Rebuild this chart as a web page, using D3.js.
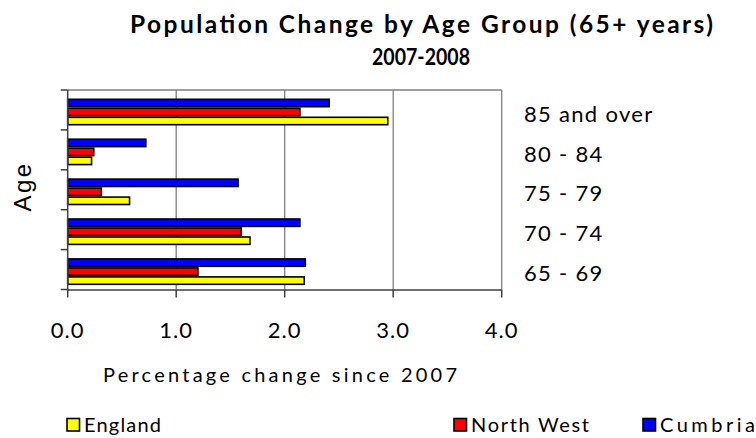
<!DOCTYPE html>
<html>
<head>
<meta charset="utf-8">
<script src="https://cdn.jsdelivr.net/npm/d3@7"></script>
<style>
  html, body { margin: 0; padding: 0; background: #fff; }
  svg { display: block; }
  text { font-family: Lato, "Open Sans", sans-serif; fill: #000; }
</style>
</head>
<body>
<svg id="chart" width="756" height="438"></svg>
<script>
const categories = ["85 and over", "80 - 84", "75 - 79", "70 - 74", "65 - 69"];
const seriesNames = ["England", "North West", "Cumbria"];
const england   = [2.95, 0.22, 0.57, 1.68, 2.18];
const northWest = [2.14, 0.24, 0.31, 1.60, 1.20];
const cumbria   = [2.41, 0.72, 1.57, 2.14, 2.19];
const xTicks = [0, 1, 2, 3, 4];
const titleLines = ["Population Change by Age Group (65+ years)", "2007-2008"];
const xTitle = "Percentage change since 2007";
const yTitle = "Age";

const colors = { "England": "#ffff00", "North West": "#ff0000", "Cumbria": "#0000ff" };
const seriesData = { "England": england, "North West": northWest, "Cumbria": cumbria };

const svg = d3.select("#chart");
const pLeft = 67.7, pRight = 501.7, pTop = 90, pBottom = 289.5;

const x = d3.scaleLinear().domain([0, 4]).range([pLeft, pRight]);
const y = d3.scaleBand().domain(categories).range([pTop, pBottom]);

// title
svg.append("text").attr("x", 421.5).attr("y", 32.5).attr("text-anchor", "middle")
  .style("font-weight", "bold").style("font-size", "24.5px")
  .attr("textLength", 583).attr("lengthAdjust", "spacing")
  .text(titleLines[0]);
svg.append("text").attr("x", 421).attr("y", 65).attr("text-anchor", "middle")
  .style("font-weight", "bold").style("font-size", "23px")
  .attr("textLength", 98).attr("lengthAdjust", "spacingAndGlyphs")
  .text(titleLines[1]);

// gridlines
svg.append("g").selectAll("line").data(xTicks.filter(d => d > 0)).join("line")
  .attr("x1", d => x(d)).attr("x2", d => x(d)).attr("y1", pTop).attr("y2", pBottom)
  .attr("stroke", "#808080").attr("stroke-width", 1.3);
svg.append("line").attr("x1", pLeft).attr("x2", pRight).attr("y1", pTop).attr("y2", pTop)
  .attr("stroke", "#808080").attr("stroke-width", 1.3);

// bars: Cumbria top, North West middle, England bottom
const order = ["Cumbria", "North West", "England"];
const pitch = 9;
order.forEach((s, i) => {
  svg.append("g").selectAll("rect").data(categories.map((c, k) => ({ c, v: seriesData[s][k] }))).join("rect")
    .attr("x", x(0))
    .attr("y", d => y(d.c) + 9.3 + i * pitch)
    .attr("width", d => x(d.v) - x(0))
    .attr("height", pitch - 1.6)
    .attr("fill", colors[s])
    .attr("stroke", "#000").attr("stroke-width", 1.6);
});

// left axis
svg.append("line").attr("x1", pLeft).attr("x2", pLeft).attr("y1", pTop).attr("y2", pBottom + 0.5)
  .attr("stroke", "#404040").attr("stroke-width", 1.5);
const bounds = categories.map(c => y(c)).concat([pBottom]);
svg.append("g").selectAll("line").data(bounds).join("line")
  .attr("x1", pLeft - 7).attr("x2", pLeft).attr("y1", d => d).attr("y2", d => d)
  .attr("stroke", "#404040").attr("stroke-width", 1.5);

// bottom axis
svg.append("line").attr("x1", pLeft).attr("x2", pRight).attr("y1", pBottom + 0.5).attr("y2", pBottom + 0.5)
  .attr("stroke", "#404040").attr("stroke-width", 1.5);
svg.append("g").selectAll("line").data(xTicks).join("line")
  .attr("x1", d => x(d)).attr("x2", d => x(d)).attr("y1", pBottom).attr("y2", pBottom + 8)
  .attr("stroke", "#404040").attr("stroke-width", 1.5);
svg.append("g").selectAll("text").data(xTicks).join("text")
  .attr("x", d => x(d)).attr("y", 338.3).attr("text-anchor", "middle")
  .style("font-size", "22px").style("letter-spacing", "1px")
  .text(d => d3.format(".1f")(d));

// category labels on right
svg.append("g").selectAll("text").data(categories).join("text")
  .attr("x", 524).attr("y", d => y(d) + y.bandwidth() / 2 + 11.7)
  .style("font-size", "22px").style("letter-spacing", "1.3px")
  .text(d => d);

// x title
svg.append("text").attr("x", 280).attr("y", 382).attr("text-anchor", "middle")
  .style("font-size", "20px")
  .attr("textLength", 354).attr("lengthAdjust", "spacing")
  .text(xTitle);

// y title
svg.append("text").attr("transform", "translate(31,186.5) rotate(-90)").attr("text-anchor", "middle")
  .style("font-family", "'Liberation Sans', Arial, sans-serif").style("font-size", "24px").style("letter-spacing", "2.5px")
  .text(yTitle);

// legend
const legendX = { "England": 67, "North West": 454, "Cumbria": 643 };
const legendW = { "England": 77, "North West": 118, "Cumbria": 95 };
seriesNames.forEach(s => {
  svg.append("rect").attr("x", legendX[s]).attr("y", 418.5).attr("width", 12.5).attr("height", 12.5)
    .attr("fill", colors[s]).attr("stroke", "#000").attr("stroke-width", 1.6);
  svg.append("text").attr("x", legendX[s] + 17).attr("y", 432.3)
    .style("font-size", "20px")
    .attr("textLength", legendW[s]).attr("lengthAdjust", "spacing")
    .text(s);
});
</script>
</body>
</html>
